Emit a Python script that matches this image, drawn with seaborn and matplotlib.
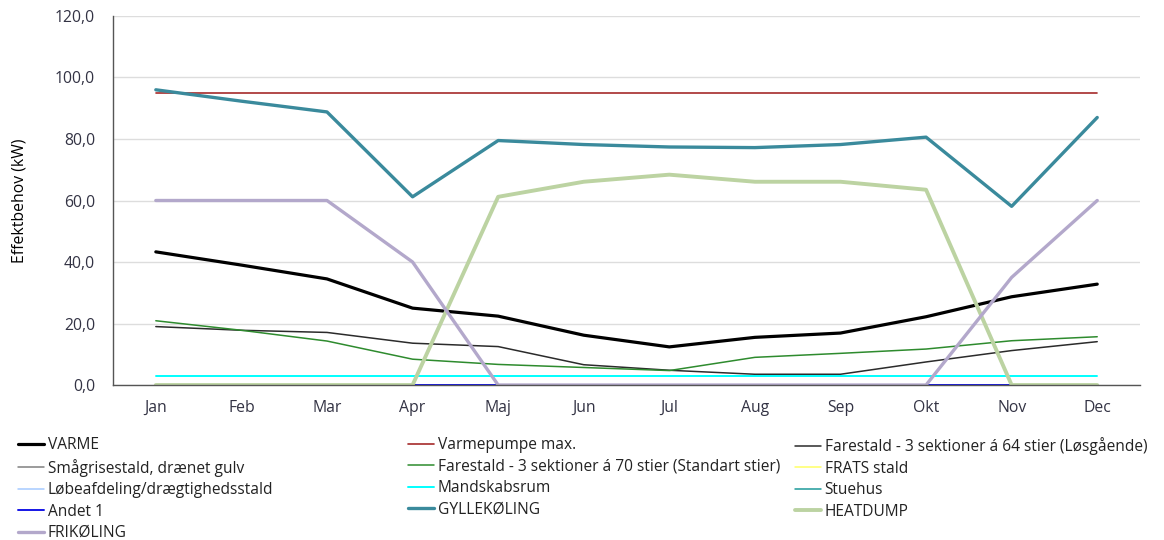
import seaborn as sns
import matplotlib.pyplot as plt
from matplotlib.ticker import FuncFormatter, MultipleLocator, FixedLocator

sns.set_style("white")
plt.rcParams['font.family'] = ['Open Sans', 'DejaVu Sans']

# Data (kW per month)
months = ['Jan', 'Feb', 'Mar', 'Apr', 'Maj', 'Jun', 'Jul', 'Aug', 'Sep', 'Okt', 'Nov', 'Dec']
varme = [43.3, 39.0, 34.5, 25.0, 22.4, 16.2, 12.4, 15.5, 16.9, 22.2, 28.7, 32.8]
varmepumpe_max = [95.0] * 12
farestald_64 = [19.0, 17.8, 17.1, 13.6, 12.5, 6.6, 4.8, 3.5, 3.5, 7.5, 11.2, 14.1]
smaagrisestald = [0.0] * 12
farestald_70 = [20.9, 17.8, 14.3, 8.4, 6.7, 5.7, 4.7, 9.0, 10.3, 11.7, 14.4, 15.7]
frats_stald = [0.0] * 12
loebeafdeling = [0.0] * 12
mandskabsrum = [2.9] * 12
stuehus = [0.0] * 12
andet_1 = [0.0] * 12
gyllekoeling = [96.0, 92.3, 88.8, 61.2, 79.5, 78.2, 77.4, 77.2, 78.2, 80.6, 58.1, 87.0]
heatdump = [0.0, 0.0, 0.0, 0.0, 61.2, 66.1, 68.4, 66.1, 66.1, 63.5, 0.0, 0.0]
frikoeling = [60.0, 60.0, 60.0, 40.0, 0.0, 0.0, 0.0, 0.0, 0.0, 0.0, 35.0, 60.0]

# name, values, colour, line width (draw order)
series = [
    ('VARME', varme, '#000000', 2.3),
    ('Varmepumpe max.', varmepumpe_max, '#a52a2a', 1.2),
    ('Farestald - 3 sektioner á 64 stier (Løsgående)', farestald_64, '#2b2b2b', 1.1),
    ('Smågrisestald, drænet gulv', smaagrisestald, '#808080', 1.1),
    ('Farestald - 3 sektioner á 70 stier (Standart stier)', farestald_70, '#2e8b2e', 1.1),
    ('FRATS stald', frats_stald, '#ffff66', 1.1),
    ('Løbeafdeling/drægtighedsstald', loebeafdeling, '#a6caff', 1.1),
    ('Mandskabsrum', mandskabsrum, '#00ffff', 1.4),
    ('Stuehus', stuehus, '#1e9a9a', 1.1),
    ('Andet 1', andet_1, '#1515e6', 1.4),
    ('GYLLEKØLING', gyllekoeling, '#3a8a9c', 2.4),
    ('HEATDUMP', heatdump, '#bcd3a2', 2.8),
    ('FRIKØLING', frikoeling, '#b3a8cb', 2.4),
]

fig = plt.figure(figsize=(11.64, 5.4), dpi=100)
ax = fig.add_axes([0.0971, 0.287, 0.8823, 0.6834])

handles = {}
for name, vals, color, lw in series:
    sns.lineplot(x=months, y=vals, ax=ax, color=color, lw=lw, label=name, legend=False)
    handles[name] = ax.get_lines()[-1]

# Axes and grid
ax.set_xlim(-0.5, 11.5)
ax.set_ylim(0, 120)
ax.yaxis.set_major_locator(MultipleLocator(20))
ax.yaxis.set_major_formatter(FuncFormatter(lambda v, p: f"{v:.1f}".replace('.', ',')))
ax.set_axisbelow(True)
ax.grid(axis='y', color='#dddddd', lw=1)
for s in ['top', 'right']:
    ax.spines[s].set_visible(False)
ax.spines['left'].set_color('#555555')
ax.spines['bottom'].set_color('#555555')
ax.spines['left'].set_lw(1)
ax.spines['bottom'].set_lw(1)

ax.xaxis.set_minor_locator(FixedLocator([i - 0.5 for i in range(13)]))
ax.tick_params(axis='x', which='major', length=0, pad=11, labelsize=11.3, labelcolor='#333344')
ax.tick_params(axis='x', which='minor', length=4, color='#777777', direction='out', width=1)
ax.tick_params(axis='y', length=5, color='#cccccc', direction='out', pad=8, labelsize=11.3, labelcolor='#333344')
ax.set_xlabel('')
ax.set_ylabel('Effektbehov (kW)', fontsize=11.3, color='#000000')
ax.yaxis.set_label_coords(-0.083, 0.5)

# Legend in three columns, row-major like the original
cols = [
    ['VARME', 'Smågrisestald, drænet gulv', 'Løbeafdeling/drægtighedsstald', 'Andet 1', 'FRIKØLING'],
    ['Varmepumpe max.', 'Farestald - 3 sektioner á 70 stier (Standart stier)', 'Mandskabsrum', 'GYLLEKØLING'],
    ['Farestald - 3 sektioner á 64 stier (Løsgående)', 'FRATS stald', 'Stuehus', 'HEATDUMP'],
]
xs = [0.0155, 0.3505, 0.683]
for x, names in zip(xs, cols):
    leg = fig.legend([handles[n] for n in names], names, loc='upper left',
                     bbox_to_anchor=(x, 0.190), frameon=False, fontsize=11.2,
                     handlelength=1.7, handletextpad=0.2, labelspacing=0.35,
                     borderaxespad=0, borderpad=0)
    for t in leg.get_texts():
        t.set_color('#222222')

fig.savefig('out.png', dpi=100)
